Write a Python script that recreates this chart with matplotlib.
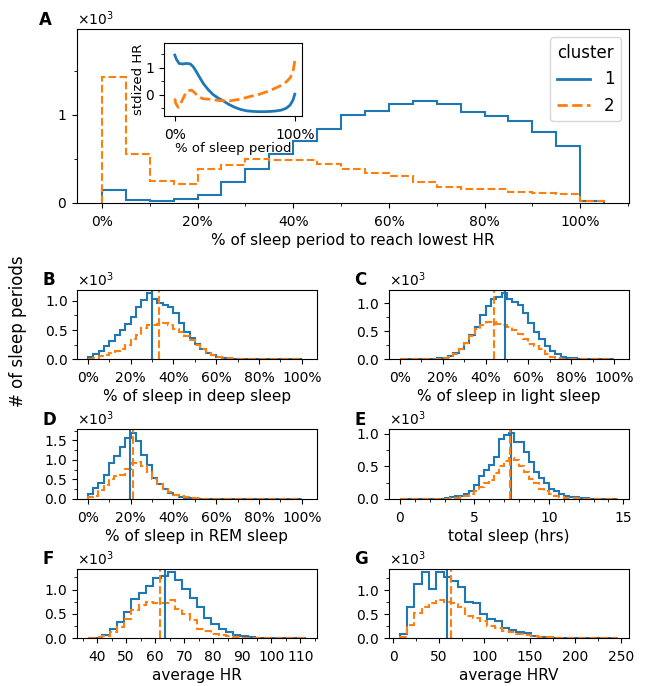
import numpy as np
import matplotlib
matplotlib.use('Agg')
import matplotlib.pyplot as plt
from matplotlib.lines import Line2D
from matplotlib.ticker import (MultipleLocator, AutoMinorLocator,
                               PercentFormatter, ScalarFormatter)

# colours of the two clusters
blue = '#1f77b4'
orange = '#ff7f0e'

# ---- data, counts in thousands of sleep periods ----

# A: % of sleep period to reach lowest HR (5% bins, 0 - 105%)
lowest_edges = np.linspace(0, 1.05, 22)
lowest_c1 = [0.144, 0.027, 0.019, 0.038, 0.087, 0.24, 0.38, 0.55, 0.70, 0.844,
             1.00, 1.04, 1.12, 1.156, 1.125, 1.03, 0.99, 0.935, 0.806, 0.646, 0.023]
lowest_c2 = [1.433, 0.551, 0.251, 0.217, 0.384, 0.433, 0.502, 0.483, 0.49, 0.445,
             0.384, 0.335, 0.30, 0.232, 0.183, 0.16, 0.152, 0.122, 0.114, 0.099, 0.015]

# inset: standardized HR along the sleep period
inset_x1 = [0, 0.014, 0.036, 0.064, 0.097, 0.13, 0.153, 0.18, 0.21, 0.24, 0.28,
            0.32, 0.36, 0.40, 0.45, 0.50, 0.55, 0.60, 0.65, 0.70, 0.75, 0.80,
            0.85, 0.89, 0.93, 0.96, 0.985, 1.0]
inset_hr1 = [1.47, 1.31, 1.16, 1.14, 1.16, 1.14, 1.04, 0.85, 0.62, 0.40, 0.18,
             0.0, -0.12, -0.22, -0.36, -0.47, -0.55, -0.60, -0.62, -0.63, -0.63,
             -0.62, -0.60, -0.57, -0.50, -0.39, -0.20, 0.02]
inset_x2 = [0, 0.008, 0.028, 0.056, 0.083, 0.111, 0.139, 0.167, 0.194, 0.236,
            0.292, 0.375, 0.458, 0.542, 0.625, 0.708, 0.792, 0.875, 0.93, 0.964,
            0.986, 1.0]
inset_hr2 = [-0.14, -0.32, -0.47, -0.26, -0.01, 0.15, 0.17, 0.07, -0.07, -0.15,
             -0.17, -0.22, -0.23, -0.17, -0.07, 0.02, 0.15, 0.32, 0.48, 0.64,
             0.89, 1.25]

# B-D: % of sleep in each stage (2.5% bins, 0 - 100%)
stage_edges = np.linspace(0, 1.0, 41)
deep_c1 = [0.045, 0.085, 0.15, 0.23, 0.31, 0.41, 0.51, 0.60, 0.73, 0.90,
           1.02, 1.13, 1.03, 0.97, 0.93, 0.89, 0.80, 0.63, 0.47, 0.36,
           0.26, 0.17, 0.11, 0.07, 0.04, 0.025, 0.015, 0.01, 0.006, 0.004,
           0.003, 0.002, 0.002, 0.001, 0.001, 0.001, 0.0, 0.0, 0.0, 0.0]
deep_c2 = [0.01, 0.03, 0.05, 0.07, 0.10, 0.14, 0.18, 0.25, 0.34, 0.41,
           0.54, 0.59, 0.59, 0.60, 0.63, 0.58, 0.52, 0.46, 0.40, 0.33,
           0.25, 0.17, 0.11, 0.07, 0.045, 0.03, 0.02, 0.012, 0.008, 0.005,
           0.004, 0.003, 0.002, 0.002, 0.001, 0.001, 0.001, 0.001, 0.001, 0.001]
deep_med = [0.30, 0.333]

light_c1 = [0.0, 0.001, 0.001, 0.002, 0.003, 0.005, 0.01, 0.02, 0.03, 0.065,
            0.11, 0.19, 0.29, 0.43, 0.58, 0.79, 0.95, 1.08, 1.11, 1.18,
            1.08, 1.03, 0.97, 0.83, 0.65, 0.49, 0.37, 0.24, 0.15, 0.09,
            0.05, 0.03, 0.015, 0.008, 0.004, 0.002, 0.001, 0.001, 0.0, 0.0]
light_c2 = [0.001, 0.001, 0.001, 0.002, 0.002, 0.003, 0.006, 0.012, 0.025, 0.05,
            0.10, 0.18, 0.29, 0.42, 0.55, 0.61, 0.67, 0.67, 0.63, 0.62,
            0.58, 0.53, 0.46, 0.37, 0.28, 0.24, 0.18, 0.10, 0.05, 0.025,
            0.012, 0.006, 0.003, 0.002, 0.001, 0.001, 0.001, 0.001, 0.001, 0.001]
light_med = [0.49, 0.44]

rem_c1 = [0.14, 0.27, 0.40, 0.62, 0.92, 1.10, 1.34, 1.57, 1.70, 1.48,
          1.12, 0.86, 0.53, 0.38, 0.25, 0.16, 0.10, 0.06, 0.035, 0.02,
          0.012, 0.008, 0.005, 0.003, 0.002, 0.002, 0.001, 0.001, 0.001, 0.001,
          0.001, 0.0, 0.0, 0.0, 0.0, 0.0, 0.0, 0.0, 0.0, 0.0]
rem_c2 = [0.04, 0.08, 0.22, 0.35, 0.50, 0.58, 0.61, 0.78, 0.92, 0.95,
          0.85, 0.68, 0.52, 0.38, 0.26, 0.17, 0.11, 0.07, 0.05, 0.03,
          0.02, 0.012, 0.008, 0.005, 0.004, 0.003, 0.002, 0.002, 0.001, 0.001,
          0.001, 0.001, 0.001, 0.001, 0.001, 0.001, 0.001, 0.001, 0.001, 0.001]
rem_med = [0.198, 0.213]

# E: total sleep in hours (20 min bins)
total_edges = np.arange(45) / 3.0
total_c1 = [0.0, 0.0, 0.001, 0.001, 0.001, 0.001, 0.002, 0.003, 0.005, 0.012,
            0.03, 0.05, 0.05, 0.08, 0.13, 0.22, 0.36, 0.45, 0.52, 0.65,
            0.92, 0.99, 1.02, 0.88, 0.88, 0.72, 0.57, 0.42, 0.32, 0.24,
            0.16, 0.13, 0.08, 0.05, 0.035, 0.025, 0.015, 0.01, 0.006, 0.004,
            0.003, 0.002, 0.001, 0.001]
total_c2 = [0.001, 0.001, 0.001, 0.001, 0.001, 0.002, 0.002, 0.003, 0.003, 0.004,
            0.008, 0.015, 0.03, 0.05, 0.08, 0.12, 0.18, 0.24, 0.29, 0.40,
            0.50, 0.58, 0.63, 0.60, 0.50, 0.42, 0.30, 0.25, 0.16, 0.13,
            0.07, 0.05, 0.03, 0.02, 0.012, 0.008, 0.005, 0.003, 0.002, 0.001,
            0.001, 0.001, 0.001, 0.001]
total_med = [7.45, 7.38]

# F: average HR (2.5 bpm bins)
hr_edges = 36.85 + 2.5 * np.arange(31)
hr_c1 = [0.003, 0.015, 0.07, 0.19, 0.34, 0.54, 0.80, 0.93, 1.08, 1.24,
         1.28, 1.36, 1.20, 1.02, 0.82, 0.64, 0.42, 0.30, 0.20, 0.13,
         0.07, 0.04, 0.02, 0.012, 0.008, 0.005, 0.003, 0.002, 0.001, 0.001]
hr_c2 = [0.002, 0.02, 0.05, 0.12, 0.23, 0.40, 0.58, 0.68, 0.75, 0.72,
         0.72, 0.78, 0.60, 0.50, 0.38, 0.20, 0.15, 0.09, 0.06, 0.04,
         0.025, 0.015, 0.01, 0.006, 0.004, 0.003, 0.002, 0.001, 0.001, 0.001]
hr_med = [63.4, 61.6]

# G: average HRV (8 ms bins)
hrv_edges = 7.3 + 8 * np.arange(31)
hrv_c1 = [0.08, 0.65, 1.13, 1.37, 1.03, 1.38, 1.27, 1.20, 1.06, 0.75,
          0.74, 0.50, 0.40, 0.36, 0.22, 0.18, 0.13, 0.10, 0.05, 0.03,
          0.02, 0.012, 0.008, 0.005, 0.004, 0.003, 0.002, 0.001, 0.001, 0.001]
hrv_c2 = [0.035, 0.28, 0.52, 0.66, 0.73, 0.80, 0.75, 0.73, 0.66, 0.47,
          0.43, 0.35, 0.26, 0.21, 0.16, 0.13, 0.09, 0.06, 0.04, 0.03,
          0.02, 0.012, 0.008, 0.005, 0.004, 0.003, 0.002, 0.001, 0.001, 0.001]
hrv_med = [59.3, 63.7]

# ---- figure ----
W, H = 647, 686
fig = plt.figure(figsize=(W / 100, H / 100), dpi=100)


def rect(left, top, right, bottom):
    # pixel box -> figure fraction
    return [left / W, 1 - bottom / H, (right - left) / W, (bottom - top) / H]


def count_axis(ax, step):
    ax.yaxis.set_major_locator(MultipleLocator(step))
    ax.yaxis.set_minor_locator(AutoMinorLocator(2))
    fmt = ScalarFormatter(useMathText=True)
    fmt.set_powerlimits((0, 0))
    ax.yaxis.set_major_formatter(fmt)
    ax.tick_params(axis='x', which='major', pad=5)


def hist_panel(box, edges, c1, c2, med, xlabel):
    ax = fig.add_axes(rect(*box))
    c1 = np.array(c1) * 1000
    c2 = np.array(c2) * 1000
    ax.stairs(c1, edges, color=blue, lw=1.5)
    ax.stairs(c2, edges, color=orange, lw=1.5, ls='--')
    ax.axvline(med[0], color=blue, lw=1.5)
    ax.axvline(med[1], color=orange, lw=1.5, ls='--')
    ax.set_ylim(0, max(c1.max(), c2.max()) * 1.05)
    ax.set_xlabel(xlabel, fontsize=11, labelpad=3)
    count_axis(ax, 500)
    return ax


# A: main histogram
axA = fig.add_axes(rect(76.7, 29, 629.3, 202.7))
axA.stairs(np.array(lowest_c1) * 1000, lowest_edges, color=blue, lw=1.5)
axA.stairs(np.array(lowest_c2) * 1000, lowest_edges, color=orange, lw=1.5, ls='--')
axA.set_ylim(0, 1980)
axA.xaxis.set_major_locator(MultipleLocator(0.2))
axA.xaxis.set_minor_locator(AutoMinorLocator(2))
axA.xaxis.set_major_formatter(PercentFormatter(1.0, decimals=0))
axA.set_xlabel('% of sleep period to reach lowest HR', fontsize=11, labelpad=3)
count_axis(axA, 1000)
handles = [Line2D([], [], color=blue, lw=2),
           Line2D([], [], color=orange, lw=2, ls='--')]
axA.legend(handles, ['1', '2'], title='cluster', loc='upper right',
           fontsize=12, title_fontsize=12)

# inset with the HR profile
axI = fig.add_axes(rect(164, 42.7, 302, 115.7))
axI.plot(inset_x1, inset_hr1, color=blue, lw=2)
axI.plot(inset_x2, inset_hr2, color=orange, lw=2, ls='--')
axI.set_xlim(-0.09, 1.06)
axI.set_ylim(-0.78, 1.93)
axI.set_xticks([0, 1])
axI.xaxis.set_major_formatter(PercentFormatter(1.0, decimals=0))
axI.yaxis.set_major_locator(MultipleLocator(1))
axI.yaxis.set_minor_locator(AutoMinorLocator(2))
axI.tick_params(axis='x', pad=5)
axI.set_xlabel('% of sleep period', fontsize=9.5, labelpad=0)
axI.set_ylabel('stdized HR', fontsize=9.5, labelpad=0)

# B-G
axB = hist_panel((77.3, 290, 316.7, 359.3), stage_edges, deep_c1, deep_c2,
                 deep_med, '% of sleep in deep sleep')
axC = hist_panel((389, 290, 629.3, 359.3), stage_edges, light_c1, light_c2,
                 light_med, '% of sleep in light sleep')
axD = hist_panel((77, 429.3, 316.7, 499), stage_edges, rem_c1, rem_c2,
                 rem_med, '% of sleep in REM sleep')
for ax in (axB, axC, axD):
    ax.set_xlim(-0.05, 1.07)
    ax.xaxis.set_major_locator(MultipleLocator(0.2))
    ax.xaxis.set_minor_locator(AutoMinorLocator(2))
    ax.xaxis.set_major_formatter(PercentFormatter(1.0, decimals=0))

axE = hist_panel((389, 429.3, 629.3, 499), total_edges, total_c1, total_c2,
                 total_med, 'total sleep (hrs)')
axE.xaxis.set_major_locator(MultipleLocator(5))
axE.xaxis.set_minor_locator(AutoMinorLocator(5))

axF = hist_panel((77, 568.7, 316.7, 638.3), hr_edges, hr_c1, hr_c2,
                 hr_med, 'average HR')
axF.xaxis.set_major_locator(MultipleLocator(10))
axF.xaxis.set_minor_locator(AutoMinorLocator(2))

axG = hist_panel((389, 568.7, 629.3, 638.3), hrv_edges, hrv_c1, hrv_c2,
                 hrv_med, 'average HRV')
axG.xaxis.set_major_locator(MultipleLocator(50))
axG.xaxis.set_minor_locator(AutoMinorLocator(2))

# panel letters and the shared y label
letters = [('A', 39, 11), ('B', 42, 271), ('C', 354, 271), ('D', 42, 411),
           ('E', 354, 411), ('F', 42, 550), ('G', 354, 550)]
for txt, x, y in letters:
    fig.text(x / W, 1 - y / H, txt, fontsize=12, fontweight='bold',
             ha='left', va='top')
fig.text(18 / W, 1 - 331 / H, '# of sleep periods', rotation=90,
         ha='center', va='center', fontsize=12)

fig.savefig('out.png', dpi=100)
